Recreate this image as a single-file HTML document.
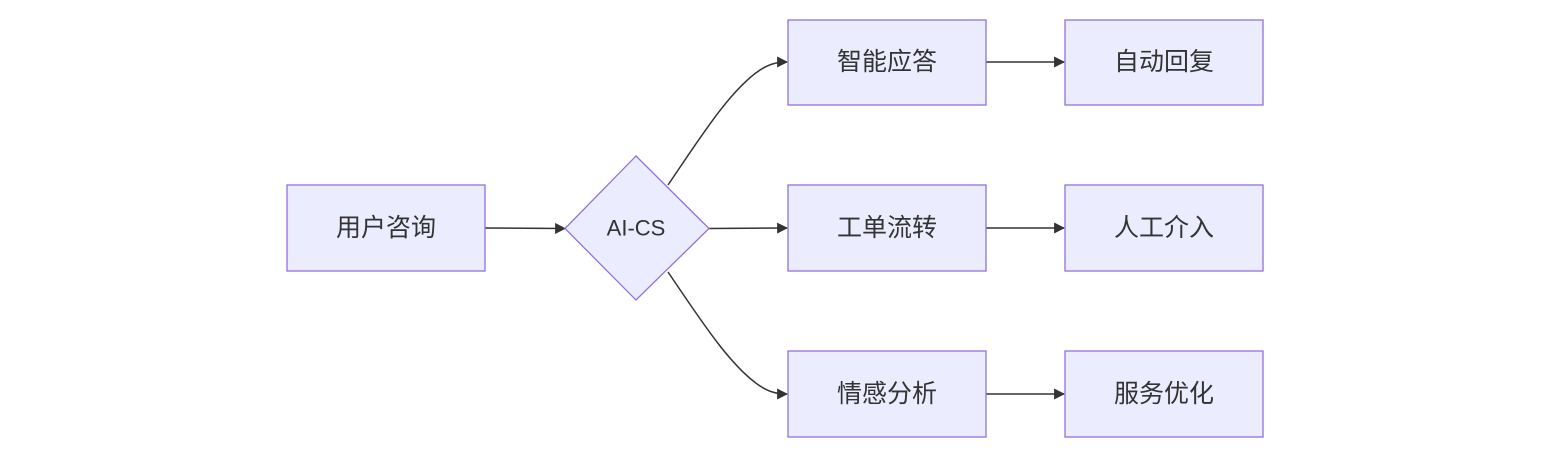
<!DOCTYPE html>
<html><head><meta charset="utf-8"><style>
html,body{margin:0;padding:0;background:#fff;}
svg{display:block}
text{font-family:"Liberation Sans","Noto Sans CJK SC",sans-serif;font-size:25px;fill:#333;text-anchor:middle;dominant-baseline:central}
text.l{font-size:22px}
.n{fill:#ECECFF;stroke:#9370DB;stroke-width:1.3}
.e{fill:none;stroke:#333;stroke-width:1.5}
</style></head><body>
<svg width="1556" height="457" viewBox="0 0 1556 457">
<defs><marker id="a" viewBox="0 0 10 10" refX="9" refY="5" markerWidth="11" markerHeight="11" markerUnits="userSpaceOnUse" orient="auto"><path d="M0,0L10,5L0,10z" fill="#333"/></marker></defs>
<path class="e" d="M485,228 L565,228.5" marker-end="url(#a)"/>
<path class="e" d="M668,185 C700,138 730,90 760,70 C768,65 775,62 787,62" marker-end="url(#a)"/>
<path class="e" d="M709,228.5 L787,228" marker-end="url(#a)"/>
<path class="e" d="M668,272 C700,319 730,366 760,386 C768,391 775,394 787,394" marker-end="url(#a)"/>
<path class="e" d="M986,62 L1064,62" marker-end="url(#a)"/>
<path class="e" d="M986,228 L1064,228" marker-end="url(#a)"/>
<path class="e" d="M986,394 L1064,394" marker-end="url(#a)"/>
<rect class="n" x="287" y="185" width="198" height="86"/><text x="386" y="228">用户咨询</text>
<polygon class="n" points="636,156 709,228.5 636,300 565,228.5"/><text class="l" x="636" y="228">AI-CS</text>
<rect class="n" x="788" y="20" width="198" height="85"/><text x="887" y="62">智能应答</text>
<rect class="n" x="788" y="185" width="198" height="86"/><text x="887" y="228">工单流转</text>
<rect class="n" x="788" y="351" width="198" height="86"/><text x="887" y="394">情感分析</text>
<rect class="n" x="1065" y="20" width="198" height="85"/><text x="1164" y="62">自动回复</text>
<rect class="n" x="1065" y="185" width="198" height="86"/><text x="1164" y="228">人工介入</text>
<rect class="n" x="1065" y="351" width="198" height="86"/><text x="1164" y="394">服务优化</text>
</svg>
</body></html>
